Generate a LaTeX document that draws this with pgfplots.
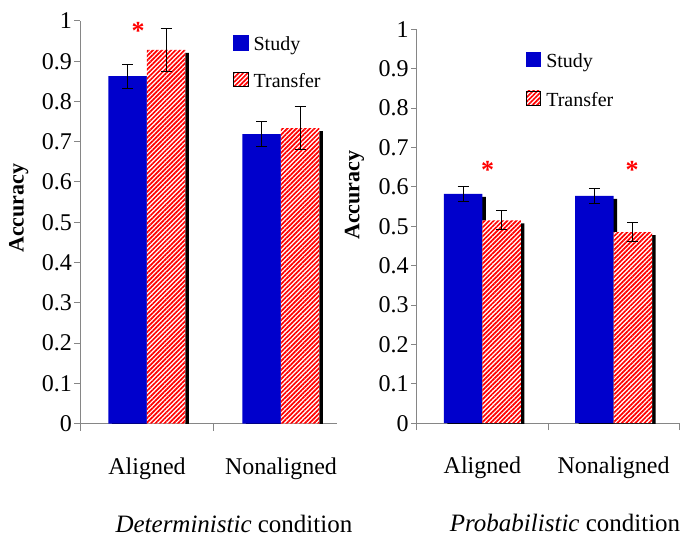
\documentclass[border=0pt]{standalone}
\usepackage{fontspec}
\setmainfont{Liberation Serif}
\usepackage{pgfplots}
\usepackage{pgfplotstable}
\pgfplotsset{compat=1.18}
\usetikzlibrary{patterns.meta}

\definecolor{studyblue}{HTML}{0000CC}
\definecolor{stripered}{HTML}{FF0000}
\definecolor{axgray}{HTML}{868686}

% deterministic condition
\pgfplotstableread{
x y err
0 0.863 0.030
1 0.719 0.031
}\detstudy
\pgfplotstableread{
x y err
0 0.928 0.054
1 0.734 0.053
}\dettransfer
% probabilistic condition
\pgfplotstableread{
x y err
0 0.582 0.020
1 0.577 0.020
}\probstudy
\pgfplotstableread{
x y err
0 0.515 0.024
1 0.485 0.024
}\probtransfer

\newcommand\ytickfont{\fontsize{24}{28}\selectfont}

\pgfplotsset{
  accpanel/.style={
    scale only axis,
    ybar=0pt, bar width=38.5pt,
    ymin=0, ymax=1,
    ytick={0,0.1,0.2,0.3,0.4,0.5,0.6,0.7,0.8,0.9,1},
    yticklabel={\ytickfont\pgfmathprintnumber[assume math mode=true]{\tick}},
    axis x line*=bottom, axis y line*=left,
    axis line style={axgray, line width=1pt},
    tick style={axgray, line width=1pt},
    tick align=outside,
    major tick length=5.5pt,
    minor tick length=7pt,
    xtick={0,1}, xticklabels={Aligned,Nonaligned},
    major x tick style={draw=none},
    minor xtick={-0.5,0.5,1.5},
    xticklabel style={font=\fontsize{24}{29}\selectfont, anchor=base, yshift=-45pt},
    yticklabel style={inner sep=2.5pt},
    ylabel={Accuracy},
    legend cell align=left,
    legend style={draw=none, fill=none, inner sep=0pt, column sep=5.5pt,
      font=\fontsize{20}{24}\selectfont,
      nodes={inner sep=0pt, text height=15pt, text depth=5pt}},
    error bars/y dir=both, error bars/y explicit,
    error bars/error bar style={black, line width=1pt},
    error bars/error mark options={rotate=90, mark size=5.5pt, line width=1pt, black},
  },
  studybar/.style={fill=studyblue, draw=none, bar shift=-19.25pt},
  transbar/.style={fill=white, draw=none, bar shift=19.25pt,
    postaction={pattern={Lines[angle=45,distance=3.2pt,line width=1.7pt]}, pattern color=stripered}},
  shadowbar/.style={fill=black, draw=none, bar shift=#1, xshift=3.5pt, yshift=-3pt,
    forget plot, error bars/y dir=none},
  studyimg/.style={legend image code/.code={\fill[studyblue] (0pt,-4pt) rectangle (14.5pt,10.5pt);}},
  transimg/.style={legend image code/.code={\fill[white] (0pt,-4pt) rectangle (14.5pt,10.5pt);
    \fill[pattern={Lines[angle=45,distance=3.2pt,line width=1.7pt]}, pattern color=stripered] (0pt,-4pt) rectangle (14.5pt,10.5pt);}},
}

\begin{document}
\begin{tikzpicture}[x=1pt,y=1pt]
\useasboundingbox (0,0) rectangle (690,538);

\begin{axis}[accpanel,
  at={(80pt,114.5pt)}, anchor=south west,
  width=257pt, height=402.5pt,
  xmin=-0.5, xmax=1.418,
  every axis y label/.style={at={(axis description cs:-0.238,0.535)}, rotate=90, anchor=center,
    font=\bfseries\fontsize{22}{26}\selectfont},
  xlabel={\textit{Deterministic} condition},
  every axis x label/.style={at={(axis description cs:0.599,-0.2708)}, anchor=base,
    font=\fontsize{25}{30}\selectfont},
  legend style={at={(0.5953,0.9652)}, anchor=north west, row sep=16pt},
]
\addlegendimage{studyimg}
\addlegendentry{Study}
\addlegendimage{transimg}
\addlegendentry{Transfer}
\addplot[shadowbar=-19.25pt] table[x=x, y=y] {\detstudy};
\addplot[shadowbar=19.25pt] table[x=x, y=y] {\dettransfer};
\addplot[studybar, forget plot] table[x=x, y=y, y error=err] {\detstudy};
\addplot[transbar, forget plot] table[x=x, y=y, y error=err] {\dettransfer};
\node[text=red, font=\bfseries\fontsize{26}{26}\selectfont, anchor=base] at (axis cs:-0.067,0.953) {*};
\end{axis}

\begin{axis}[accpanel,
  at={(416.7pt,114.8pt)}, anchor=south west,
  width=262.6pt, height=393.9pt,
  xmin=-0.5, xmax=1.5,
  every axis y label/.style={at={(axis description cs:-0.237,0.579)}, rotate=90, anchor=center,
    font=\bfseries\fontsize{22}{26}\selectfont},
  xlabel={\textit{Probabilistic} condition},
  every axis x label/.style={at={(axis description cs:0.565,-0.276)}, anchor=base,
    font=\fontsize{25}{30}\selectfont},
  legend style={at={(0.415,0.943)}, anchor=north west, row sep=18pt},
]
\addlegendimage{studyimg}
\addlegendentry{Study}
\addlegendimage{transimg}
\addlegendentry{Transfer}
\addplot[shadowbar=-19.25pt] table[x=x, y=y] {\probstudy};
\addplot[shadowbar=19.25pt] table[x=x, y=y] {\probtransfer};
\addplot[studybar, forget plot] table[x=x, y=y, y error=err] {\probstudy};
\addplot[transbar, forget plot] table[x=x, y=y, y error=err] {\probtransfer};
\node[text=red, font=\bfseries\fontsize{26}{26}\selectfont, anchor=base] at (axis cs:0.04,0.6215) {*};
\node[text=red, font=\bfseries\fontsize{26}{26}\selectfont, anchor=base] at (axis cs:1.14,0.6215) {*};
\end{axis}
\end{tikzpicture}
\end{document}
